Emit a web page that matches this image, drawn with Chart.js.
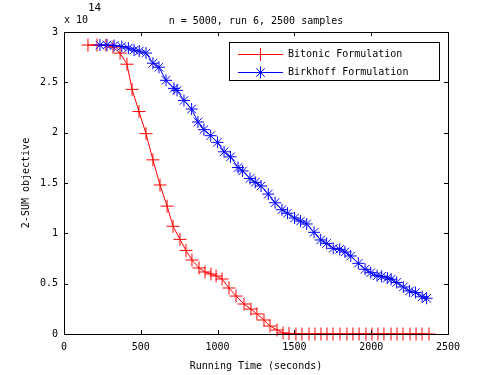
<!DOCTYPE html>
<html>
<head>
<meta charset="utf-8">
<script src="https://cdn.jsdelivr.net/npm/chart.js@4/dist/chart.umd.min.js"></script>
<style>
html,body{margin:0;padding:0;background:#fff;}
#wrap{width:495px;height:375px;}
</style>
</head>
<body>
<div id="wrap"><canvas id="c" width="495" height="375"></canvas></div>
<script>
// ---- data (values in units of 1e14) ----
const chartTitle = "n = 5000, run 6, 2500 samples";
const xTitle = "Running Time (seconds)";
const yTitle = "2-SUM objective";
const yExponent = "14";
const seriesNames = ["Bitonic Formulation", "Birkhoff Formulation"];

const bitonicTime = [156, 215, 273, 319, 365, 410, 443, 488, 534, 579, 625, 671, 710, 755, 794, 833, 879, 918, 957, 990,
  1029, 1074, 1120, 1172, 1217, 1256, 1302, 1341, 1387, 1426, 1465, 1510, 1549, 1595, 1634, 1673, 1712, 1751, 1797, 1842,
  1881, 1921, 1966, 2005, 2044, 2083, 2129, 2168, 2207, 2253, 2292, 2331, 2376];
const bitonicValues = [2.87, 2.87, 2.87, 2.85, 2.79, 2.68, 2.43, 2.21, 1.99, 1.73, 1.48, 1.27, 1.07, 0.94, 0.83, 0.735, 0.656, 0.616, 0.596, 0.576,
  0.546, 0.457, 0.377, 0.298, 0.248, 0.199, 0.139, 0.079, 0.04, 0.01, 0.005, 0, 0, 0, 0, 0, 0, 0, 0, 0,
  0, 0, 0, 0, 0, 0, 0, 0, 0, 0, 0, 0, 0];

const birkhoffTime = [234, 280, 326, 376, 419, 456, 490, 534, 579, 618, 664, 716, 736, 781, 831, 872, 911, 955, 999, 1042,
  1084, 1133, 1163, 1211, 1245, 1283, 1330, 1374, 1419, 1455, 1501, 1540, 1580, 1628, 1671, 1710, 1753, 1795, 1829, 1867,
  1916, 1960, 1997, 2038, 2068, 2105, 2130, 2166, 2209, 2250, 2288, 2332, 2361];
const birkhoffValues = [2.87, 2.87, 2.866, 2.856, 2.84, 2.82, 2.81, 2.79, 2.69, 2.65, 2.52, 2.44, 2.42, 2.32, 2.235, 2.106, 2.03, 1.97, 1.904, 1.81,
  1.76, 1.654, 1.62, 1.545, 1.507, 1.47, 1.39, 1.304, 1.235, 1.20, 1.152, 1.122, 1.093, 1.01, 0.934, 0.90, 0.851, 0.841, 0.815, 0.775,
  0.702, 0.643, 0.609, 0.579, 0.573, 0.556, 0.544, 0.512, 0.467, 0.427, 0.412, 0.37, 0.355];

const FONT = "'DejaVu Sans Mono', monospace";

function pts(xs, ys){ return xs.map((x,i)=>({x:x, y:ys[i]})); }

const decorPlugin = {
  id: 'decor',
  afterDatasetsDraw(chart){
    const ctx = chart.ctx;
    const a = chart.chartArea;
    const xs = chart.scales.x, ys = chart.scales.y;
    ctx.save();
    ctx.strokeStyle = '#000';
    ctx.lineWidth = 1;
    // box
    ctx.strokeRect(Math.round(a.left)+0.5, Math.round(a.top)+0.5, Math.round(a.right-a.left), Math.round(a.bottom-a.top));
    // inward ticks
    const tl = 4;
    ctx.beginPath();
    xs.ticks.forEach(t=>{
      const px = Math.round(xs.getPixelForValue(t.value))+0.5;
      ctx.moveTo(px, a.bottom); ctx.lineTo(px, a.bottom - tl);
      ctx.moveTo(px, a.top); ctx.lineTo(px, a.top + tl);
    });
    ys.ticks.forEach(t=>{
      const py = Math.round(ys.getPixelForValue(t.value))+0.5;
      ctx.moveTo(a.left, py); ctx.lineTo(a.left + tl, py);
      ctx.moveTo(a.right, py); ctx.lineTo(a.right - tl, py);
    });
    ctx.stroke();
    // title
    ctx.fillStyle = '#000';
    ctx.font = '10px ' + FONT;
    ctx.textAlign = 'center';
    ctx.textBaseline = 'middle';
    ctx.fillText(chartTitle, (a.left + a.right)/2, 21);
    // exponent
    ctx.textAlign = 'left';
    ctx.fillText('x 10', a.left, 20);
    ctx.font = '11px ' + FONT;
    ctx.fillText(yExponent, a.left + 24, 8);
    // legend
    const lx = 229.5, ly = 42.5, lw = 210, lh = 38;
    ctx.fillStyle = '#fff';
    ctx.fillRect(lx, ly, lw, lh);
    ctx.strokeRect(lx, ly, lw, lh);
    ctx.font = '10px ' + FONT;
    const rows = [54.5, 72.5];
    chart.data.datasets.forEach((ds, i)=>{
      const y = rows[i];
      ctx.strokeStyle = ds.borderColor;
      ctx.lineWidth = 1;
      ctx.beginPath();
      ctx.moveTo(238, y); ctx.lineTo(283, y);
      ctx.stroke();
      Chart.helpers.drawPoint(ctx, {pointStyle: ds.pointStyle, radius: ds.pointRadius, rotation: 0, borderWidth: 1}, 260.5, y);
      ctx.fillStyle = '#000';
      ctx.textAlign = 'left';
      ctx.textBaseline = 'middle';
      ctx.fillText(ds.label, 288, y);
    });
    ctx.restore();
  }
};

new Chart(document.getElementById('c'), {
  type: 'line',
  data: {
    datasets: [
      {
        label: seriesNames[0],
        data: pts(bitonicTime, bitonicValues),
        borderColor: '#ff0000', backgroundColor: '#ff0000',
        borderWidth: 1, pointStyle: 'cross', pointRadius: 6.5,
        pointBorderWidth: 1, pointBorderColor: '#ff0000',
        tension: 0, fill: false, clip: false, order: 1
      },
      {
        label: seriesNames[1],
        data: pts(birkhoffTime, birkhoffValues),
        borderColor: '#0000ff', backgroundColor: '#0000ff',
        borderWidth: 1, pointStyle: 'star', pointRadius: 6,
        pointBorderWidth: 1, pointBorderColor: '#0000ff',
        tension: 0, fill: false, clip: false, order: 0
      }
    ]
  },
  options: {
    responsive: false,
    animation: false,
    events: [],
    devicePixelRatio: 1,
    layout: { padding: { top: 32, right: 47, left: 0, bottom: 0 } },
    plugins: { legend: { display: false }, tooltip: { enabled: false }, title: { display: false } },
    scales: {
      x: {
        type: 'linear', min: 0, max: 2500,
        afterFit(s){ s.height = 41; },
        grid: { display: false, drawTicks: false },
        border: { display: false },
        ticks: { stepSize: 500, padding: 7, color: '#000', font: { family: FONT, size: 10 },
          callback: v => String(v) },
        title: { display: true, text: xTitle, color: '#000', font: { family: FONT, size: 10 }, padding: { top: 0, bottom: 3 } }
      },
      y: {
        type: 'linear', min: 0, max: 3,
        afterFit(s){ s.width = 64; },
        grid: { display: false, drawTicks: false },
        border: { display: false },
        ticks: { stepSize: 0.5, padding: 6, color: '#000', font: { family: FONT, size: 10 },
          callback: v => String(v) },
        title: { display: true, text: yTitle, color: '#000', font: { family: FONT, size: 10 }, padding: { top: 20, bottom: 0 } }
      }
    }
  },
  plugins: [decorPlugin]
});
</script>
</body>
</html>
